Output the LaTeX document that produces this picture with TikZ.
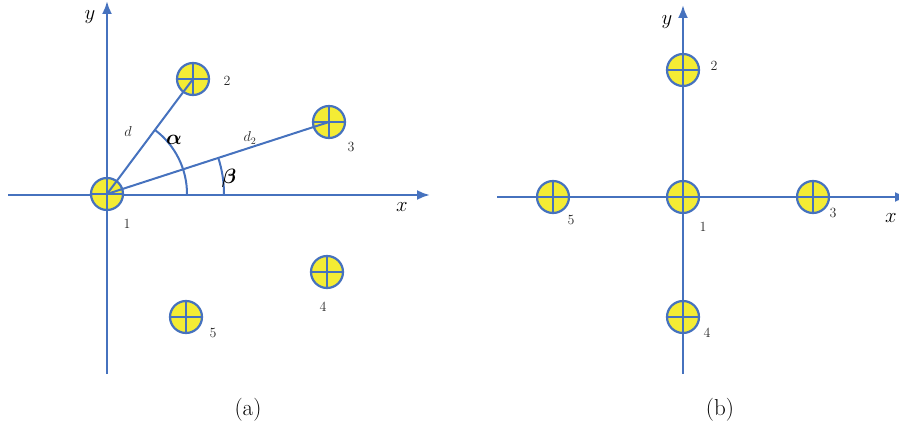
\documentclass[tikz,border=0pt]{standalone}
\usepackage{amsmath}
\usepackage{xcolor}
\usepackage{tikz}
\usetikzlibrary{arrows.meta, positioning, calc}

\definecolor{axisblue}{RGB}{70,114,190}
\definecolor{ionyellow}{RGB}{244,236,52}

\tikzset{
    axis/.style={axisblue, line width=2.4pt, -{Latex[length=13pt, width=10pt]}},
    ion/.style={circle, draw=axisblue, fill=ionyellow, line width=2.2pt,
        minimum size=32pt, inner sep=0pt,
        path picture={\draw[axisblue, line width=1.8pt]
            (path picture bounding box.north) -- (path picture bounding box.south)
            (path picture bounding box.west) -- (path picture bounding box.east);}},
    num/.style={font=\fontsize{14}{16}\selectfont, text=black!85},
    arm/.style={axisblue, line width=2pt},
    axlabel/.style={font=\fontsize{21}{24}\selectfont},
    anglabel/.style={font=\fontsize{22}{26}\selectfont},
    caption/.style={font=\fontsize{23}{27}\selectfont}
}

\begin{document}
\begin{tikzpicture}[x=1pt, y=-1pt]
    \useasboundingbox (0,0) rectangle (899,430);

    % (a) axes
    \coordinate (ax0) at (8,195);
    \coordinate (ax1) at (430,195);
    \coordinate (ay0) at (107,374);
    \coordinate (ay1) at (107,1);
    \draw[axis] (ax0) -- (ax1);
    \draw[axis] (ay0) -- (ay1);

    % (a) ions
    \node[ion] (a1) at (107,194) {};
    \node[ion] (a2) at (193,79) {};
    \node[ion] (a3) at (329,122) {};
    \node[ion] (a4) at (327,272) {};
    \node[ion] (a5) at (186,317) {};

    % (a) arms to ions 2 and 3
    \draw[arm] (a1.center) -- (a2.center);
    \draw[arm] (a1.center) -- (a3.center);

    % angle marks
    \draw[arm] (a1.center) ++(0:80) arc (0:-53:80);
    \draw[arm] (a1.center) ++(0:117) arc (0:-18:117);
    \node[anglabel] (alpha) at (174,140) {$\boldsymbol{\alpha}$};
    \node[anglabel] (beta) at (229,178) {$\boldsymbol{\beta}$};

    % (a) labels
    \node[num] (dlab) at (128,132) {$d$};
    \node[num] (d2lab) at (250,138) {$d_2$};
    \node[num] (a1lab) at (127,224) {1};
    \node[num] (a2lab) at (227,81) {2};
    \node[num] (a3lab) at (351,147) {3};
    \node[num] (a4lab) at (323,307) {4};
    \node[num] (a5lab) at (213,333) {5};
    \node[axlabel] (axlab) at (402,207) {$x$};
    \node[axlabel] (aylab) at (90,17) {$y$};
    \node[caption] (capa) at (248,410) {(a)};

    % (b) axes
    \coordinate (bx0) at (497,197);
    \coordinate (bx1) at (908,197);
    \coordinate (by0) at (683,374);
    \coordinate (by1) at (683,5);
    \draw[axis] (bx0) -- (bx1);
    \draw[axis] (by0) -- (by1);

    % (b) ions
    \node[ion] (b1) at (683,197) {};
    \node[ion] (b2) at (683,70) {};
    \node[ion] (b3) at (813,197) {};
    \node[ion] (b4) at (683,317) {};
    \node[ion] (b5) at (553,197) {};

    % (b) labels
    \node[num] (b1lab) at (703,227) {1};
    \node[num] (b2lab) at (714,66) {2};
    \node[num] (b3lab) at (833,213) {3};
    \node[num] (b4lab) at (707,333) {4};
    \node[num] (b5lab) at (571,220) {5};
    \node[axlabel] (bxlab) at (891,218) {$x$};
    \node[axlabel] (bylab) at (667,22) {$y$};
    \node[caption] (capb) at (720,410) {(b)};
\end{tikzpicture}
\end{document}
